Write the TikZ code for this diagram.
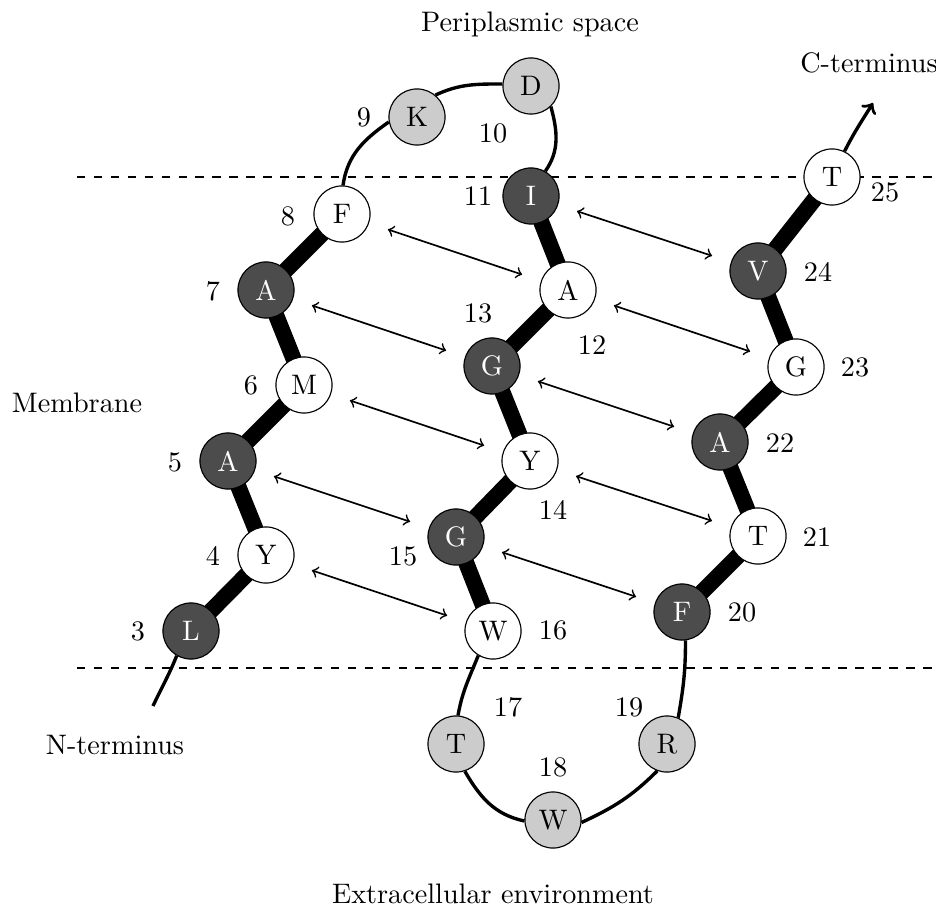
\documentclass[tikz,border=0pt]{standalone}
\usetikzlibrary{backgrounds}
\begin{document}
\begin{tikzpicture}[x=0.3546pt,y=0.3546pt,
  res/.style={circle,draw,thin,minimum size=19.9pt,inner sep=0pt},
  hydro/.style={res,fill=black!70,text=white},
  polar/.style={res,fill=white},
  loopres/.style={res,fill=black!20},
  num/.style={inner sep=0pt},
  lbl/.style={inner sep=0pt,anchor=base},
  bar/.style={line width=2mm},
  loopline/.style={very thick},
  pair/.style={semithick,<->,shorten <=7pt,shorten >=7pt},
  memb/.style={dashed,thin}]
\useasboundingbox (0,0) rectangle (936,907);
% residues
\node[hydro]   (r3)  at (191,276) {L};
\node[polar]   (r4)  at (266,352) {Y};
\node[hydro]   (r5)  at (228,446) {A};
\node[polar]   (r6)  at (304,522) {M};
\node[hydro]   (r7)  at (266,617) {A};
\node[polar]   (r8)  at (342,693) {F};
\node[loopres] (r9)  at (417,790) {K};
\node[loopres] (r10) at (531,821) {D};
\node[hydro]   (r11) at (531,711) {I};
\node[polar]   (r12) at (568,617) {A};
\node[hydro]   (r13) at (492,541) {G};
\node[polar]   (r14) at (530,446) {Y};
\node[hydro]   (r15) at (456,370) {G};
\node[polar]   (r16) at (493,276) {W};
\node[loopres] (r17) at (456,163) {T};
\node[loopres] (r18) at (553,87)  {W};
\node[loopres] (r19) at (667,163) {R};
\node[hydro]   (r20) at (682,295) {F};
\node[polar]   (r21) at (758,371) {T};
\node[hydro]   (r22) at (720,465) {A};
\node[polar]   (r23) at (796,540) {G};
\node[hydro]   (r24) at (758,636) {V};
\node[polar]   (r25) at (832,730) {T};
% numbers
\node[num] (n3)  at (138,276) {3};
\node[num] (n4)  at (213,351) {4};
\node[num] (n5)  at (175,445) {5};
\node[num] (n6)  at (251,522) {6};
\node[num] (n7)  at (213,616) {7};
\node[num] (n8)  at (288,691) {8};
\node[num] (n9)  at (364,790) {9};
\node[num] (n10) at (493,774) {10};
\node[num] (n11) at (478,711) {11};
\node[num] (n12) at (592,562) {12};
\node[num] (n13) at (478,594) {13};
\node[num] (n14) at (553,397) {14};
\node[num] (n15) at (403,351) {15};
\node[num] (n16) at (553,277) {16};
\node[num] (n17) at (508,200) {17};
\node[num] (n18) at (553,140) {18};
\node[num] (n19) at (629,200) {19};
\node[num] (n20) at (742,295) {20};
\node[num] (n21) at (817,370) {21};
\node[num] (n22) at (780,464) {22};
\node[num] (n23) at (855,540) {23};
\node[num] (n24) at (818,635) {24};
\node[num] (n25) at (885,715) {25};
% region labels
\node[lbl] (peri)  at (530,875) {Periplasmic space};
\node[lbl] (cterm) at (869,834) {C-terminus};
\node[lbl] (mem)   at (77,494)  {Membrane};
\node[lbl] (nterm) at (115,153) {N-terminus};
\node[lbl] (extra) at (493,4)   {Extracellular environment};
% free ends
\coordinate (nend) at (153,201);
\coordinate (cend) at (873,804);
\coordinate (m1a) at (77,730);
\coordinate (m1b) at (950,730);
\coordinate (m2a) at (77,239);
\coordinate (m2b) at (950,239);
\begin{scope}[on background layer]
  \draw[memb] (m1a) -- (m1b);
  \draw[memb] (m2a) -- (m2b);
  \draw[bar] (r3.center) -- (r4.center) -- (r5.center) -- (r6.center) -- (r7.center) -- (r8.center);
  \draw[bar] (r11.center) -- (r12.center) -- (r13.center) -- (r14.center) -- (r15.center) -- (r16.center);
  \draw[bar] (r20.center) -- (r21.center) -- (r22.center) -- (r23.center) -- (r24.center) -- (r25.center);
\end{scope}
% loops
\draw[loopline] (r8.88) to[out=82,in=215] (r9.190);
\draw[loopline] (r9.50) to[out=25,in=180] (r10.176);
\draw[loopline] (r10.-46) to[out=-75,in=55] (r11.60);
\draw[loopline] (r16.239) to[out=248,in=80] (r17.86);
\draw[loopline] (r17.-72) to[out=-60,in=168] (r18.182);
\draw[loopline] (r18.-5) to[out=25,in=225] (r19.250);
\draw[loopline] (r19.67) to[out=80,in=-90] (r20.-83);
\draw[loopline] (r3.240) to[out=248,in=65] (nend);
\draw[loopline,->] (r25.64) to[out=63,in=-122] (cend);
% pairings
\draw[pair] (r8) -- (r12);
\draw[pair] (r7) -- (r13);
\draw[pair] (r6) -- (r14);
\draw[pair] (r5) -- (r15);
\draw[pair] (r4) -- (r16);
\draw[pair] (r11) -- (r24);
\draw[pair] (r12) -- (r23);
\draw[pair] (r13) -- (r22);
\draw[pair] (r14) -- (r21);
\draw[pair] (r15) -- (r20);
\end{tikzpicture}
\end{document}
